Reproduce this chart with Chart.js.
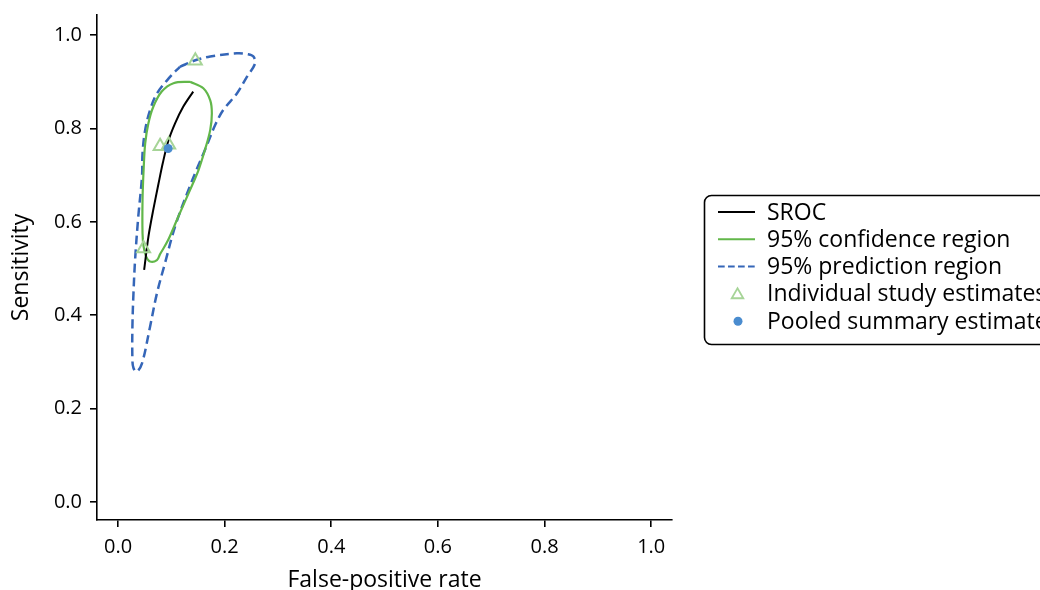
<!DOCTYPE html>
<html>
<head>
<meta charset="utf-8">
<script src="https://cdn.jsdelivr.net/npm/chart.js@4.4.1/dist/chart.umd.min.js"></script>
<style>
  html, body { margin: 0; padding: 0; background: #fff; overflow: hidden; }
  #wrap { width: 1040px; height: 590px; position: relative; }
</style>
</head>
<body>
<div id="wrap"><canvas id="c" width="1040" height="590"></canvas></div>
<script>
// ---------- data ----------
const tickValues = [0.0, 0.2, 0.4, 0.6, 0.8, 1.0];

const seriesNames = ['SROC', '95% confidence region', '95% prediction region',
                     'Individual study estimates', 'Pooled summary estimate'];

// SROC curve
const srocFpr  = [0.049, 0.057, 0.066, 0.076, 0.084, 0.094, 0.107, 0.122, 0.141];
const srocSens = [0.497, 0.568, 0.625, 0.682, 0.726, 0.772, 0.811, 0.846, 0.879];

// 95% confidence region (closed)
const confFpr  = [0.135, 0.160, 0.173, 0.176, 0.173, 0.163, 0.151, 0.135, 0.113, 0.094, 0.079,
                  0.073, 0.060, 0.053, 0.048, 0.046, 0.046, 0.048, 0.051, 0.057, 0.066, 0.082,
                  0.104, 0.135];
const confSens = [0.900, 0.886, 0.860, 0.832, 0.797, 0.754, 0.711, 0.668, 0.611, 0.561, 0.531,
                  0.518, 0.515, 0.525, 0.547, 0.575, 0.647, 0.711, 0.768, 0.811, 0.846, 0.879,
                  0.897, 0.900];

// 95% prediction region (closed)
const predFpr  = [0.116, 0.145, 0.173, 0.223, 0.244, 0.254, 0.257, 0.242, 0.223, 0.197, 0.182,
                  0.173, 0.163, 0.150, 0.135, 0.107, 0.088, 0.073, 0.060, 0.045, 0.035, 0.029,
                  0.027, 0.027, 0.029, 0.032, 0.038, 0.045, 0.046, 0.051, 0.060, 0.073, 0.098,
                  0.116];
const predSens = [0.932, 0.946, 0.954, 0.961, 0.959, 0.954, 0.939, 0.911, 0.875, 0.839, 0.807,
                  0.782, 0.754, 0.719, 0.677, 0.590, 0.511, 0.447, 0.375, 0.297, 0.279, 0.287,
                  0.304, 0.375, 0.447, 0.518, 0.611, 0.697, 0.747, 0.797, 0.839, 0.875, 0.911,
                  0.932];

// individual studies
const studyFpr  = [0.145, 0.079, 0.095, 0.048];
const studySens = [0.945, 0.762, 0.765, 0.543];

// pooled summary
const pooledFpr  = [0.094];
const pooledSens = [0.757];

// ---------- helpers ----------
const pts = (xs, ys) => xs.map((x, i) => ({ x: x, y: ys[i] }));

const FONT = '"Open Sans", "Noto Sans", sans-serif';
const C_SROC = '#000000';
const C_CONF = '#62b74a';
const C_PRED = '#3566b8';
const C_STUDY = '#a6d497';
const C_POOL = '#4a8ccf';

const legendPlugin = {
  id: 'boxLegend',
  afterDraw(chart) {
    const ctx = chart.ctx;
    ctx.save();
    ctx.beginPath();
    ctx.roundRect(704.5, 195.5, 380, 149, 7);
    ctx.lineWidth = 1.6;
    ctx.strokeStyle = '#000';
    ctx.stroke();

    const x0 = 718, x1 = 755, tx = 767, y0 = 212, dy = 27.3;
    // SROC
    ctx.lineWidth = 1.8; ctx.strokeStyle = C_SROC; ctx.setLineDash([]);
    ctx.beginPath(); ctx.moveTo(x0, y0); ctx.lineTo(x1, y0); ctx.stroke();
    // conf
    ctx.lineWidth = 2; ctx.strokeStyle = C_CONF;
    ctx.beginPath(); ctx.moveTo(x0, y0 + dy); ctx.lineTo(x1, y0 + dy); ctx.stroke();
    // pred
    ctx.strokeStyle = C_PRED; ctx.setLineDash([6.7, 3.3]);
    ctx.beginPath(); ctx.moveTo(x0, y0 + 2 * dy); ctx.lineTo(x1 + 1, y0 + 2 * dy); ctx.stroke();
    ctx.setLineDash([]);
    // triangle
    const cx = 737.5, ty = y0 + 3 * dy + 1, r = 6.7;
    ctx.strokeStyle = C_STUDY; ctx.lineWidth = 1.8;
    ctx.beginPath();
    ctx.moveTo(cx, ty - r);
    ctx.lineTo(cx + r * Math.cos(Math.PI / 6), ty + r / 2);
    ctx.lineTo(cx - r * Math.cos(Math.PI / 6), ty + r / 2);
    ctx.closePath(); ctx.stroke();
    // dot
    ctx.fillStyle = C_POOL;
    ctx.beginPath(); ctx.arc(cx + 0.5, y0 + 4 * dy, 4.5, 0, Math.PI * 2); ctx.fill();

    ctx.fillStyle = '#000';
    ctx.font = '23px ' + FONT;
    ctx.textBaseline = 'middle';
    ctx.textAlign = 'left';
    seriesNames.forEach((n, i) => ctx.fillText(n, tx, y0 + i * dy + 1));
    ctx.restore();
  }
};

new Chart(document.getElementById('c'), {
  type: 'scatter',
  data: {
    datasets: [
      { label: seriesNames[4], data: pts(pooledFpr, pooledSens), order: 0,
        pointStyle: 'circle', pointRadius: 4.5, backgroundColor: C_POOL, borderColor: C_POOL,
        borderWidth: 0, showLine: false },
      { label: seriesNames[3], data: pts(studyFpr, studySens), order: 1,
        pointStyle: 'triangle', pointRadius: 7.5, backgroundColor: 'rgba(0,0,0,0)',
        borderColor: C_STUDY, pointBorderWidth: 2, showLine: false },
      { label: seriesNames[0], data: pts(srocFpr, srocSens), order: 2,
        showLine: true, borderColor: C_SROC, borderWidth: 2, pointRadius: 0, tension: 0.3 },
      { label: seriesNames[1], data: pts(confFpr, confSens), order: 3,
        showLine: true, borderColor: C_CONF, borderWidth: 2.2, pointRadius: 0, tension: 0.35 },
      { label: seriesNames[2], data: pts(predFpr, predSens), order: 4,
        showLine: true, borderColor: C_PRED, borderWidth: 2.5, borderDash: [9, 5],
        pointRadius: 0, tension: 0.35 }
    ]
  },
  options: {
    responsive: false,
    animation: false,
    layout: { padding: { top: 15, right: 368, left: 0, bottom: 0 } },
    plugins: { legend: { display: false }, tooltip: { enabled: false } },
    scales: {
      x: {
        type: 'linear', min: -0.0394, max: 1.039,
        afterBuildTicks: s => { s.ticks = tickValues.map(v => ({ value: v })); },
        afterFit: s => { s.height = 70; s.paddingLeft = 0; s.paddingRight = 0; },
        border: { display: true, color: '#000', width: 1.6 },
        grid: { drawOnChartArea: false, drawTicks: true, tickLength: 7, color: '#000', lineWidth: 1.6 },
        ticks: { color: '#000', padding: 8, font: { family: FONT, size: 20 },
                 callback: v => Number(v).toFixed(1), maxRotation: 0 },
        title: { display: true, text: 'False-positive rate', color: '#000',
                 font: { family: FONT, size: 23 }, padding: { top: 0, bottom: -4 } }
      },
      y: {
        type: 'linear', min: -0.0385, max: 1.043,
        afterBuildTicks: s => { s.ticks = tickValues.map(v => ({ value: v })); },
        afterFit: s => { s.width = 97; s.paddingTop = 0; s.paddingBottom = 0; },
        border: { display: true, color: '#000', width: 1.6 },
        grid: { drawOnChartArea: false, drawTicks: true, tickLength: 7, color: '#000', lineWidth: 1.6 },
        ticks: { color: '#000', padding: 8, font: { family: FONT, size: 20 },
                 callback: v => Number(v).toFixed(1) },
        title: { display: true, text: 'Sensitivity', color: '#000',
                 font: { family: FONT, size: 23 }, padding: { top: 8, bottom: 0 } }
      }
    }
  },
  plugins: [legendPlugin]
});
</script>
</body>
</html>
